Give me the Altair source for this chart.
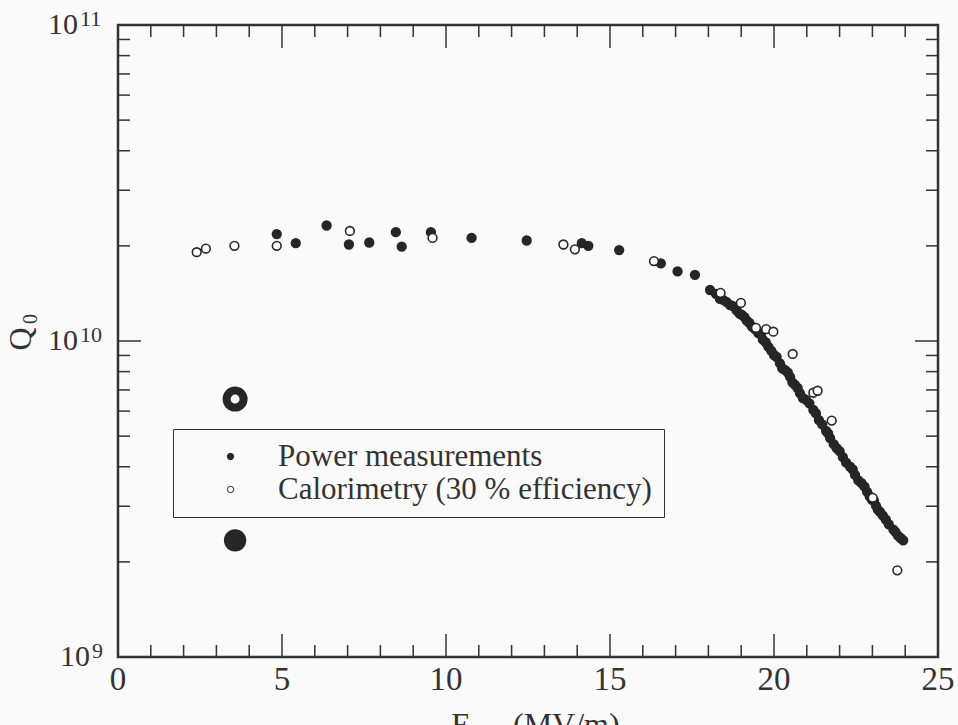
import altair as alt
import pandas as pd

# ---------------- data ----------------
series_names = ["Power measurements", "Calorimetry (30 % efficiency)"]

power_x = [4.84, 5.42, 6.36, 7.04, 7.66, 8.47, 8.65, 9.54, 10.78, 12.46, 14.14, 14.34,
           15.28, 16.55, 17.06, 17.59, 18.05,
           18.23, 18.45, 18.66, 18.86, 19.02, 19.17, 19.33, 19.52, 19.66, 19.83, 20.00,
           20.18, 20.34, 20.49, 20.64, 20.79, 20.98, 21.20, 21.37, 21.59, 21.71, 21.91,
           22.10, 22.32, 22.47, 22.67, 22.84, 22.99, 23.11, 23.23, 23.41, 23.64, 23.78, 23.94,
           18.35, 18.55, 18.75, 18.95, 19.10, 19.25, 19.42, 19.60, 19.75, 19.92, 20.08,
           20.25, 20.42, 20.56, 20.72, 20.88, 21.08, 21.28, 21.47, 21.65, 21.82, 22.00,
           22.20, 22.40, 22.57, 22.76, 22.92, 23.05, 23.17, 23.32, 23.50, 23.70, 23.86]
power_q = [2.18e10, 2.04e10, 2.32e10, 2.02e10, 2.05e10, 2.21e10, 1.99e10, 2.21e10, 2.12e10,
           2.08e10, 2.04e10, 2.00e10, 1.94e10, 1.76e10, 1.66e10, 1.62e10, 1.45e10,
           1.41e10, 1.35e10, 1.30e10, 1.25e10, 1.21e10, 1.16e10, 1.11e10, 1.06e10, 1.01e10,
           9.58e9, 9.03e9, 8.50e9, 8.09e9, 7.70e9, 7.26e9, 6.84e9, 6.51e9, 6.05e9, 5.62e9,
           5.19e9, 4.93e9, 4.58e9, 4.29e9, 4.00e9, 3.77e9, 3.55e9, 3.33e9, 3.14e9, 3.01e9,
           2.88e9, 2.72e9, 2.53e9, 2.42e9, 2.34e9,
           1.36e10, 1.33e10, 1.29e10, 1.22e10, 1.19e10, 1.14e10, 1.09e10, 1.05e10, 9.9e9,
           9.3e9, 8.9e9, 8.2e9, 7.95e9, 7.4e9, 7.1e9, 6.6e9, 6.35e9, 5.9e9, 5.45e9, 5.1e9,
           4.72e9, 4.48e9, 4.12e9, 3.92e9, 3.62e9, 3.46e9, 3.22e9, 3.12e9, 2.92e9, 2.80e9,
           2.63e9, 2.49e9, 2.38e9]

cal_x = [2.40, 2.68, 3.55, 4.84, 7.07, 9.59, 13.58, 13.93, 16.34, 18.37, 18.99, 19.45,
         19.76, 19.98, 20.57, 21.20, 21.33, 21.76, 23.01, 23.76]
cal_q = [1.91e10, 1.96e10, 2.00e10, 2.00e10, 2.23e10, 2.12e10, 2.02e10, 1.95e10, 1.79e10,
         1.42e10, 1.32e10, 1.10e10, 1.09e10, 1.07e10, 9.1e9, 6.86e9, 6.96e9, 5.6e9,
         3.19e9, 1.88e9]

ring_x = [3.57]
ring_q = [6.55e9]
solid_x = [3.57]
solid_q = [2.34e9]

x_label_vals = [0, 5, 10, 15, 20, 25]
x_major = [5, 10, 15, 20]
x_minor = [1, 2, 3, 4, 6, 7, 8, 9, 11, 12, 13, 14, 16, 17, 18, 19, 21, 22, 23, 24]
y_major = [1e10]
y_minor = [2e9, 3e9, 4e9, 5e9, 6e9, 7e9, 8e9, 9e9,
           2e10, 3e10, 4e10, 5e10, 6e10, 7e10, 8e10, 9e10]
y_label_vals = [1e9, 1e10, 1e11]
y_label_exps = ["9", "10", "11"]

# ---------------- chart ----------------
W, H = 820, 632
INK = "#262626"
TXT = "#333333"
FONT = "Liberation Serif"

xs = alt.Scale(domain=[0, 25], nice=False, zero=False)
ys = alt.Scale(type="log", domain=[1e9, 1e11], nice=False)

df = pd.concat([
    pd.DataFrame({"E": power_x, "Q": power_q, "series": series_names[0]}),
    pd.DataFrame({"E": cal_x, "Q": cal_q, "series": series_names[1]}),
], ignore_index=True)

points = alt.Chart(df).mark_point(
    filled=True, shape="circle", size=76, stroke=INK, strokeWidth=1.6, opacity=1
).encode(
    x=alt.X("E:Q", scale=xs, axis=None),
    y=alt.Y("Q:Q", scale=ys, axis=None),
    fill=alt.Fill("series:N", scale=alt.Scale(domain=series_names, range=[INK, "white"]),
                  legend=alt.Legend(
                      title=None, orient="none", legendX=55, legendY=404,
                      padding=12, strokeColor=TXT,
                      labelFont=FONT, labelFontSize=31, labelColor=TXT,
                      labelLimit=800, symbolType="circle", symbolSize=40,
                      symbolOffset=30, labelOffset=32, rowPadding=1,
                      symbolStrokeColor=INK, symbolStrokeWidth=1)),
)

ring = alt.Chart(pd.DataFrame({"E": ring_x, "Q": ring_q})).mark_point(
    shape="circle", size=290, stroke=INK, strokeWidth=8, filled=False, opacity=1
).encode(x=alt.X("E:Q", scale=xs, axis=None), y=alt.Y("Q:Q", scale=ys, axis=None))

solid = alt.Chart(pd.DataFrame({"E": solid_x, "Q": solid_q})).mark_point(
    shape="circle", size=500, filled=True, color=INK, opacity=1
).encode(x=alt.X("E:Q", scale=xs, axis=None), y=alt.Y("Q:Q", scale=ys, axis=None))


def xticks(vals, length):
    base = alt.Chart(pd.DataFrame({"v": vals}))
    bot = base.mark_rule(color=TXT, strokeWidth=1.5).encode(
        x=alt.X("v:Q", scale=xs, axis=None), y=alt.value(H), y2=alt.value(H - length))
    top = base.mark_rule(color=TXT, strokeWidth=1.5).encode(
        x=alt.X("v:Q", scale=xs, axis=None), y=alt.value(0), y2=alt.value(length))
    return [bot, top]


def yticks(vals, length):
    base = alt.Chart(pd.DataFrame({"v": vals}))
    left = base.mark_rule(color=TXT, strokeWidth=1.5).encode(
        y=alt.Y("v:Q", scale=ys, axis=None), x=alt.value(0), x2=alt.value(length))
    right = base.mark_rule(color=TXT, strokeWidth=1.5).encode(
        y=alt.Y("v:Q", scale=ys, axis=None), x=alt.value(W), x2=alt.value(W - length))
    return [left, right]


ticks = xticks(x_minor, 12) + xticks(x_major, 23) + yticks(y_minor, 12) + yticks(y_major, 23)

xlabels = alt.Chart(pd.DataFrame({"v": x_label_vals})).mark_text(
    align="center", baseline="top", font=FONT, fontSize=33, color=TXT
).encode(x=alt.X("v:Q", scale=xs, axis=None), y=alt.value(H + 7), text=alt.Text("v:Q", format="d"))

ylab = pd.DataFrame({"v": y_label_vals, "e": y_label_exps, "b": ["10"] * 3})
ylab_base = alt.Chart(ylab)
y_one = ylab_base.transform_filter("length(datum.e) == 1")
y_two = ylab_base.transform_filter("length(datum.e) == 2")
ylabels = [
    y_one.mark_text(align="right", baseline="middle", font=FONT, fontSize=30, color=TXT).encode(
        y=alt.Y("v:Q", scale=ys, axis=None), x=alt.value(-28), text="b:N"),
    y_one.mark_text(align="left", baseline="middle", dy=-6, font=FONT, fontSize=22, color=TXT).encode(
        y=alt.Y("v:Q", scale=ys, axis=None), x=alt.value(-26), text="e:N"),
    y_two.mark_text(align="right", baseline="middle", font=FONT, fontSize=30, color=TXT).encode(
        y=alt.Y("v:Q", scale=ys, axis=None), x=alt.value(-40), text="b:N"),
    y_two.mark_text(align="left", baseline="middle", dy=-6, font=FONT, fontSize=22, color=TXT).encode(
        y=alt.Y("v:Q", scale=ys, axis=None), x=alt.value(-38), text="e:N"),
]

titles = [
    alt.Chart(pd.DataFrame({"t": ["Q"]})).mark_text(
        angle=270, align="center", baseline="middle", font=FONT, fontSize=32, color=TXT
    ).encode(text="t:N", x=alt.value(-97), y=alt.value(314)),
    alt.Chart(pd.DataFrame({"t": ["0"]})).mark_text(
        angle=270, align="center", baseline="middle", font=FONT, fontSize=20, color=TXT
    ).encode(text="t:N", x=alt.value(-87), y=alt.value(294)),
    alt.Chart(pd.DataFrame({"t": ["E"]})).mark_text(
        align="center", baseline="top", font=FONT, fontSize=32, color=TXT
    ).encode(text="t:N", x=alt.value(343), y=alt.value(685)),
    alt.Chart(pd.DataFrame({"t": ["acc"]})).mark_text(
        align="left", baseline="top", font=FONT, fontSize=22, color=TXT
    ).encode(text="t:N", x=alt.value(356), y=alt.value(703)),
    alt.Chart(pd.DataFrame({"t": ["(MV/m)"]})).mark_text(
        align="left", baseline="top", font=FONT, fontSize=32, color=TXT
    ).encode(text="t:N", x=alt.value(395), y=alt.value(685)),
]

chart = alt.layer(*ticks, ring, solid, points, xlabels, *ylabels, *titles).properties(
    width=W, height=H,
    autosize=alt.AutoSizeParams(type="none"),
    padding={"left": 118, "top": 25, "right": 20, "bottom": 68},
    background="#fafafa",
).configure(font=FONT).configure_view(stroke=TXT, strokeWidth=2.5)

chart.save("out.html", embed_options={"renderer": "svg", "actions": False})
